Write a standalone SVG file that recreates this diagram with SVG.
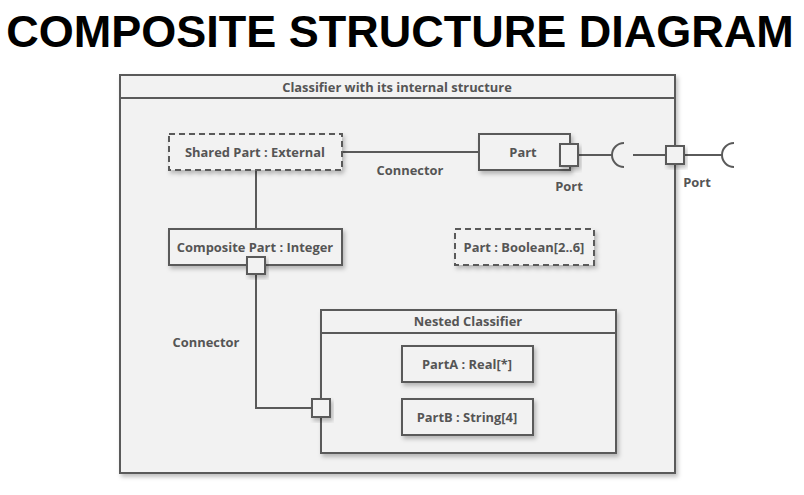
<svg xmlns="http://www.w3.org/2000/svg" width="804" height="495" viewBox="0 0 804 495">
<defs>
<filter id="sh" x="-10%" y="-10%" width="130%" height="140%">
<feDropShadow dx="2" dy="3" stdDeviation="2" flood-color="#000" flood-opacity="0.25"/>
</filter>
</defs>
<style>
.box{fill:#f2f2f2;stroke:#5a5a5a;stroke-width:2;filter:url(#sh)}
.dash{stroke-dasharray:6 4}
.ln{fill:none;stroke:#5a5a5a;stroke-width:2}
.t{font-family:"Open Sans","Noto Sans",sans-serif;font-weight:bold;font-size:12.9px;fill:#555;text-anchor:middle;dominant-baseline:central}
.title{font-family:"Liberation Sans",Arial,sans-serif;font-weight:bold;font-size:45px;fill:#000;text-anchor:middle}
</style>
<rect width="804" height="495" fill="#fff"/>
<text class="title" x="400" y="47">COMPOSITE STRUCTURE DIAGRAM</text>

<g id="classifier">
<rect class="box" x="120" y="75" width="555" height="398"/>
<line class="ln" x1="120" y1="98" x2="675" y2="98"/>
<text class="t" x="397" y="87">Classifier with its internal structure</text>
</g>

<g id="connectors">
<line class="ln" x1="342" y1="152" x2="479" y2="152"/>
<line class="ln" x1="256" y1="170" x2="256" y2="229"/>
<polyline class="ln" points="256,274 256,408 312,408"/>
<line class="ln" x1="578" y1="155" x2="612" y2="155"/>
<path class="ln" d="M624,143 A12,12 0 0 0 624,167"/>
<line class="ln" x1="633" y1="155" x2="666" y2="155"/>
<line class="ln" x1="684" y1="155" x2="722" y2="155"/>
<path class="ln" d="M734,143 A12,12 0 0 0 734,167"/>
<text class="t" x="410" y="170">Connector</text>
<text class="t" x="206" y="342">Connector</text>
</g>

<g id="shared-part">
<rect class="box dash" x="169" y="134" width="173" height="36"/>
<text class="t" x="255" y="152">Shared Part : External</text>
</g>

<g id="part">
<rect class="box" x="479" y="134" width="91" height="36"/>
<text class="t" x="523" y="152">Part</text>
</g>

<g id="part-port">
<rect class="box" x="560" y="144" width="18" height="22"/>
<text class="t" x="569" y="186">Port</text>
</g>

<g id="outer-port">
<rect class="box" x="666" y="146" width="18" height="18"/>
<text class="t" x="697" y="182">Port</text>
</g>

<g id="boolean-part">
<rect class="box dash" x="455" y="229" width="139" height="36"/>
<text class="t" x="524" y="247">Part : Boolean[2..6]</text>
</g>

<g id="composite-part">
<rect class="box" x="169" y="229" width="173" height="36"/>
<text class="t" x="255" y="247">Composite Part : Integer</text>
</g>

<g id="composite-port">
<rect class="box" x="247" y="257" width="18" height="17"/>
</g>

<g id="nested-classifier">
<rect class="box" x="321" y="310" width="295" height="143"/>
<line class="ln" x1="321" y1="333" x2="616" y2="333"/>
<text class="t" x="468" y="321">Nested Classifier</text>
</g>

<g id="nested-port">
<rect class="box" x="312" y="399" width="18" height="18"/>
</g>

<g id="partA">
<rect class="box" x="402" y="346" width="131" height="36"/>
<text class="t" x="467" y="364">PartA : Real[*]</text>
</g>

<g id="partB">
<rect class="box" x="402" y="399" width="131" height="36"/>
<text class="t" x="467" y="417">PartB : String[4]</text>
</g>
</svg>
